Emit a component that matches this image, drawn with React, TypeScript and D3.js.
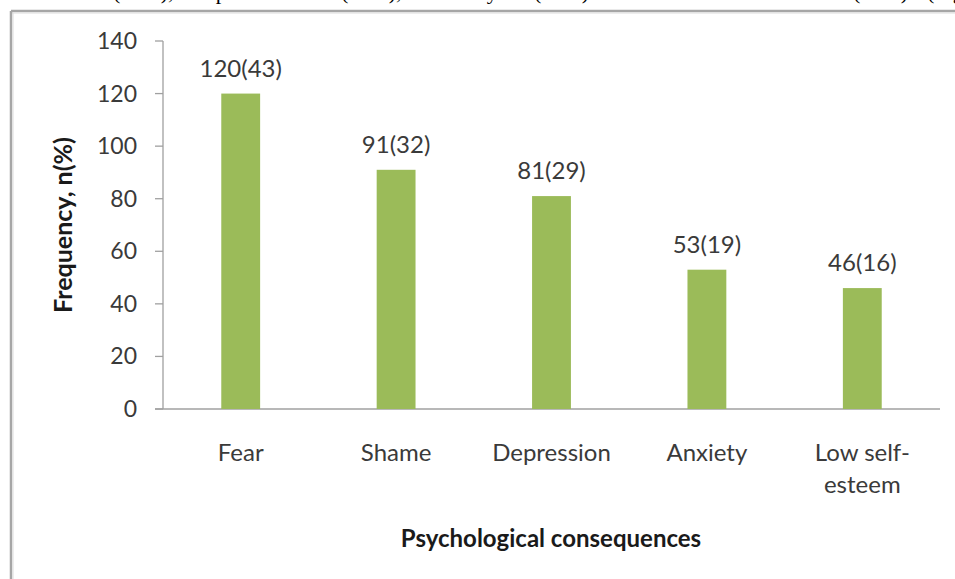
import React from "react";
import * as d3 from "d3";

const categories: string[][] = [["Fear"], ["Shame"], ["Depression"], ["Anxiety"], ["Low self-", "esteem"]];
const counts: number[] = [120, 91, 81, 53, 46];
const percents: number[] = [43, 32, 29, 19, 16];
const yTicks: number[] = [0, 20, 40, 60, 80, 100, 120, 140];
const yTitle = "Frequency, n(%)";
const xTitle = "Psychological consequences";
// fragments of the running text above the figure (cut off by the crop)
const captionTokens: { t: string; x: number }[] = [
  { t: "shame", x: 52 },
  { t: "(32%),", x: 113 },
  { t: "depression", x: 195 },
  { t: "(29%),", x: 341 },
  { t: "anxiety", x: 433 },
  { t: "(19%)", x: 534 },
  { t: "and low self-esteem", x: 640 },
  { t: "(16%)", x: 853 },
  { t: "(Figure 3).", x: 927 },
];

const W = 955;
const H = 579;
const FONT = "Lato, 'Open Sans', sans-serif";

export default function App() {
  const x0 = 163;
  const x1 = 940;
  const yBase = 409;
  const yTop = 41;
  const idx = categories.map((_, i) => String(i));
  const x = d3.scaleBand<string>().domain(idx).range([x0, x1]).paddingInner(0.75).paddingOuter(0.375);
  const y = d3.scaleLinear().domain([0, 140]).range([yBase, yTop]);
  const cx = (i: number) => (x(String(i)) as number) + x.bandwidth() / 2;

  return (
    <svg width={W} height={H} style={{ position: "absolute", left: 0, top: 0, background: "#fff" }}>
      <rect x={0} y={0} width={W} height={H} fill="#fff" />
      {/* caption fragments */}
      <g fontFamily="'Liberation Serif', 'Times New Roman', serif" fontSize={22} fill="#000">
        {captionTokens.map((c, i) => (
          <text key={i} x={c.x} y={-1.5}>{c.t}</text>
        ))}
      </g>
      {/* frame */}
      <line x1={11} x2={W} y1={11} y2={11} stroke="#a6a6a6" strokeWidth={2.5} />
      <line x1={11} x2={W} y1={13} y2={13} stroke="#dcdcdc" strokeWidth={1} />
      <line x1={11} x2={11} y1={11} y2={H} stroke="#a6a6a6" strokeWidth={2.5} />
      <line x1={13} x2={13} y1={13} y2={H} stroke="#dcdcdc" strokeWidth={1} />

      {/* y axis */}
      <line x1={x0} x2={x0} y1={y(140)} y2={y(0)} stroke="#a0a0a0" strokeWidth={1.3} />
      {yTicks.map((t) => (
        <g key={t}>
          <line x1={x0 - 8} x2={x0} y1={y(t)} y2={y(t)} stroke="#a0a0a0" strokeWidth={1.3} />
          <text x={137} y={y(t)} dy="0.35em" textAnchor="end" fontFamily={FONT} fontSize={23} fill="#3a3a3a">
            {t}
          </text>
        </g>
      ))}
      {/* x axis */}
      <line x1={x0 - 8} x2={x1} y1={yBase} y2={yBase} stroke="#a0a0a0" strokeWidth={1.5} />

      {/* bars */}
      {counts.map((v, i) => (
        <rect key={i} x={x(String(i))} y={y(v)} width={x.bandwidth()} height={y(0) - y(v)} fill="#9bbb59" />
      ))}
      {/* data labels */}
      {counts.map((v, i) => (
        <text key={i} x={cx(i)} y={y(v) - 17} textAnchor="middle" fontFamily={FONT} fontSize={24} fill="#3a3a3a">
          {`${v}(${percents[i]})`}
        </text>
      ))}
      {/* category labels */}
      {categories.map((lines, i) => (
        <text key={i} x={cx(i)} y={461} textAnchor="middle" fontFamily={FONT} fontSize={24} fill="#3a3a3a">
          {lines.map((l, j) => (
            <tspan key={j} x={cx(i)} dy={j === 0 ? 0 : 32}>{l}</tspan>
          ))}
        </text>
      ))}
      {/* titles */}
      <text x={551} y={547} textAnchor="middle" fontFamily={FONT} fontSize={24} fontWeight="bold" fill="#1a1a1a">
        {xTitle}
      </text>
      <text transform={`translate(72,225) rotate(-90)`} textAnchor="middle" fontFamily={FONT} fontSize={25}
        fontWeight="bold" fill="#1a1a1a">
        {yTitle}
      </text>
    </svg>
  );
}
